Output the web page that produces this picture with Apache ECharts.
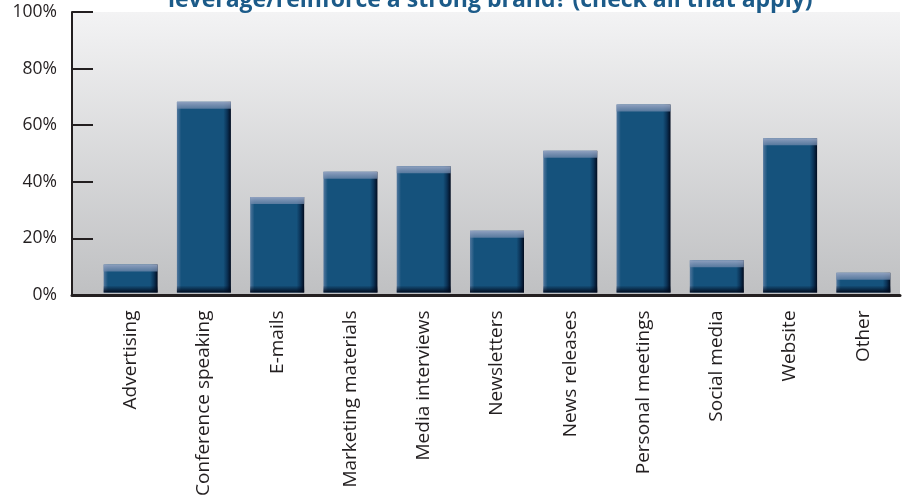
<!DOCTYPE html>
<html>
<head>
<meta charset="utf-8">
<script src="https://cdn.jsdelivr.net/npm/echarts@6/dist/echarts.min.js"></script>
<style>html,body{margin:0;padding:0;background:#fff;}#chart{width:904px;height:499px;}</style>
</head>
<body>
<div id="chart"></div>
<script>
const titleText = 'leverage/reinforce a strong brand? (check all that apply)';
const categories = ['Advertising', 'Conference speaking', 'E-mails', 'Marketing materials', 'Media interviews', 'Newsletters', 'News releases', 'Personal meetings', 'Social media', 'Website', 'Other'];
const values = [10, 68, 34, 43, 45, 22, 50.5, 67, 11.5, 55, 7];
const yTicks = [0, 20, 40, 60, 80, 100];

const BAR_W = 54;
const chart = echarts.init(document.getElementById('chart'), null, {renderer: 'canvas'});
const G = echarts.graphic;

const option = {
  animation: false,
  backgroundColor: '#ffffff',
  title: {
    text: titleText,
    left: 163,
    top: -16,
    textStyle: {fontFamily: 'Open Sans', fontWeight: 'bold', fontSize: 23, color: '#1c5b89'}
  },
  grid: [
    {left: 72, right: 4, top: 12, bottom: 204, show: true, borderWidth: 0,
     backgroundColor: new G.LinearGradient(0, 0, 0, 1, [{offset: 0, color: '#f3f3f4'}, {offset: 1, color: '#bfc0c2'}])},
    {left: 94, right: 4, top: 12, bottom: 204}
  ],
  xAxis: [
    {gridIndex: 0, type: 'value', min: 0, max: 1,
     axisLine: {show: true, lineStyle: {color: '#231f20', width: 3}},
     axisTick: {show: false}, axisLabel: {show: false}, splitLine: {show: false}},
    {gridIndex: 1, type: 'category', data: categories,
     axisLine: {show: false}, axisTick: {show: false}, splitLine: {show: false},
     axisLabel: {rotate: 90, margin: 18, interval: 0, fontFamily: 'Open Sans', fontSize: 19, color: '#231f20'}}
  ],
  yAxis: [
    {gridIndex: 0, type: 'value', min: yTicks[0], max: yTicks[yTicks.length - 1], interval: yTicks[1] - yTicks[0],
     axisLine: {show: true, lineStyle: {color: '#231f20', width: 2}},
     axisTick: {show: true, inside: true, length: 21, lineStyle: {color: '#231f20', width: 2}},
     axisLabel: {formatter: '{value}%', margin: 15, fontFamily: 'Open Sans', fontSize: 17.5, color: '#231f20'},
     splitLine: {show: false}},
    {gridIndex: 1, type: 'value', min: 0, max: 100, show: false, splitLine: {show: false}}
  ],
  series: [
    {
      type: 'bar', xAxisIndex: 1, yAxisIndex: 1, data: values, barWidth: BAR_W,
      itemStyle: {
        color: new G.LinearGradient(0, 0, 1, 0, [
          {offset: 0, color: '#52779d'},
          {offset: 0.08, color: '#15527c'},
          {offset: 0.86, color: '#15527c'},
          {offset: 0.93, color: '#0b3357'},
          {offset: 1, color: '#010b1e'}
        ])
      }
    },
    {
      type: 'custom', xAxisIndex: 1, yAxisIndex: 1, z: 3,
      data: values.map((v, i) => [i, v]),
      renderItem: function (params, api) {
        const top = api.coord([api.value(0), api.value(1)]);
        const base = api.coord([api.value(0), 0]);
        const left = top[0] - BAR_W / 2;
        const h = base[1] - top[1];
        const bev = Math.min(7, h);
        return {
          type: 'group',
          children: [
            {type: 'rect', shape: {x: left, y: top[1], width: BAR_W, height: bev},
             style: {fill: new G.LinearGradient(0, 0, 0, 1, [
               {offset: 0, color: 'rgba(150,165,195,0.95)'},
               {offset: 1, color: 'rgba(110,135,170,0.75)'}])}},
            {type: 'rect', shape: {x: left, y: base[1] - 7, width: BAR_W, height: 7},
             style: {fill: new G.LinearGradient(0, 0, 0, 1, [
               {offset: 0, color: 'rgba(2,12,32,0)'},
               {offset: 1, color: 'rgba(2,10,28,0.97)'}])}}
          ]
        };
      }
    }
  ]
};
chart.setOption(option);
</script>
</body>
</html>
